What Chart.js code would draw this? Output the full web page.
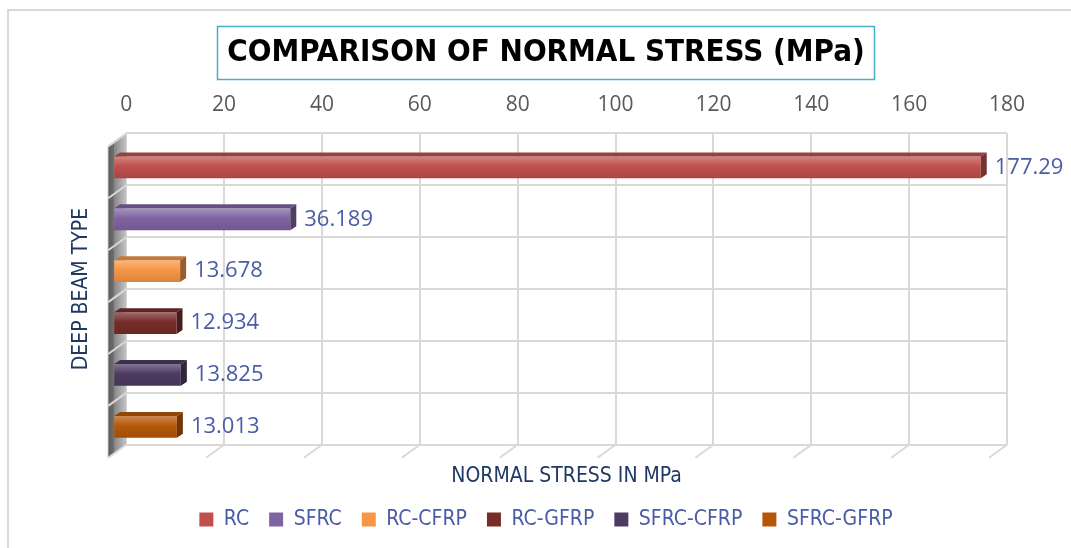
<!DOCTYPE html>
<html>
<head>
<meta charset="utf-8">
<title>Comparison of normal stress</title>
<script src="https://cdn.jsdelivr.net/npm/chart.js@4.4.0/dist/chart.umd.min.js"></script>
<style>
  html, body { margin: 0; padding: 0; background: #fff; }
  #wrap { width: 1071px; height: 548px; position: relative; }
</style>
</head>
<body>
<div id="wrap"><canvas id="stressChart"></canvas></div>
<script>
// chart data
const categories = ['RC', 'SFRC', 'RC-CFRP', 'RC-GFRP', 'SFRC-CFRP', 'SFRC-GFRP'];
const stressValues = [177.29, 36.189, 13.678, 12.934, 13.825, 13.013];
const tickValues = [0, 20, 40, 60, 80, 100, 120, 140, 160, 180];

const barColors = ['#C0504D', '#8064A2', '#F79646', '#772C2A', '#4D3B62', '#B65708'];
const labelBlue = '#4A5CA6';
const navy = '#1F3864';
const gridGray = '#D9D9D9';
const narrow = "'Liberation Sans Narrow', 'DejaVu Sans Condensed', sans-serif";
const plain = "'Open Sans', sans-serif";
const barPct = 0.42;

// 3d offsets (front of bars vs back wall, bar depth, floor depth)
const front = { x: -13, y: 8 };
const depth = { x: 6, y: -4 };
const floor = { x: -18, y: 13 };

// lighten (f>0) or darken (f<0) a hex colour
function shade(hex, f) {
    const n = parseInt(hex.slice(1), 16);
    const t = f < 0 ? 0 : 255, p = Math.abs(f);
    const c = [n >> 16, (n >> 8) & 255, n & 255].map(v => Math.round(v + (t - v) * p));
    return 'rgb(' + c.join(',') + ')';
}

function barFill(c, i) {
    const chart = c.chart;
    const ys = chart.scales.y;
    if (!chart.chartArea || !ys) return barColors[i];
    const mid = ys.getPixelForValue(c.dataIndex);
    const half = (ys.getPixelForValue(1) - ys.getPixelForValue(0)) * barPct / 2;
    const g = chart.ctx.createLinearGradient(0, mid - half, 0, mid + half);
    g.addColorStop(0, shade(barColors[i], 0.3));
    g.addColorStop(0.45, barColors[i]);
    g.addColorStop(1, shade(barColors[i], -0.12));
    return g;
}

const frame3d = {
    id: 'frame3d',
    beforeDraw(chart) {
        const ctx = chart.ctx;
        ctx.save();
        ctx.fillStyle = '#fff';
        ctx.fillRect(0, 0, chart.width, chart.height);
        ctx.strokeStyle = gridGray;
        ctx.lineWidth = 2;
        ctx.strokeRect(8, 10, chart.width + 20, chart.height + 20);
        ctx.restore();
    },
    beforeDatasetsDraw(chart) {
        const ctx = chart.ctx, a = chart.chartArea;
        const xs = chart.scales.x, ys = chart.scales.y;
        const step = ys.getPixelForValue(1) - ys.getPixelForValue(0);
        ctx.save();
        // side wall on the left
        const g = ctx.createLinearGradient(a.left + floor.x, 0, a.left, 0);
        g.addColorStop(0, '#5a5a5a');
        g.addColorStop(0.3, '#6e6e6e');
        g.addColorStop(0.35, '#888');
        g.addColorStop(1, '#c4c4c4');
        ctx.fillStyle = g;
        ctx.beginPath();
        ctx.moveTo(a.left, a.top);
        ctx.lineTo(a.left, a.bottom);
        ctx.lineTo(a.left + floor.x, a.bottom + floor.y);
        ctx.lineTo(a.left + floor.x, a.top + floor.y);
        ctx.closePath();
        ctx.fill();
        ctx.strokeStyle = '#e6e6e6';
        ctx.lineWidth = 1;
        ctx.beginPath();
        ctx.moveTo(a.left + floor.x - 0.5, a.top + floor.y);
        ctx.lineTo(a.left + floor.x - 0.5, a.bottom + floor.y);
        ctx.stroke();
        // depth lines on the wall and the floor
        ctx.strokeStyle = gridGray;
        ctx.lineWidth = 2;
        ctx.beginPath();
        for (let i = 0; i <= categories.length; i++) {
            const yb = ys.getPixelForValue(0) - step / 2 + i * step;
            ctx.moveTo(a.left, yb);
            ctx.lineTo(a.left + floor.x, yb + floor.y);
        }
        tickValues.forEach(v => {
            const xb = xs.getPixelForValue(v);
            ctx.moveTo(xb, a.bottom);
            ctx.lineTo(xb + floor.x, a.bottom + floor.y);
        });
        ctx.stroke();
        // bars are drawn on the front plane
        ctx.translate(front.x, front.y);
    },
    afterDatasetsDraw(chart) {
        const ctx = chart.ctx;
        ctx.restore();
        ctx.save();
        chart.data.datasets.forEach((ds, i) => {
            const meta = chart.getDatasetMeta(i);
            meta.data.forEach((el, j) => {
                if (ds.data[j] == null) return;
                const x0 = el.base + front.x, x1 = el.x + front.x;
                const top = el.y - el.height / 2 + front.y;
                const bot = el.y + el.height / 2 + front.y;
                // top face
                ctx.fillStyle = shade(barColors[i], -0.2);
                ctx.beginPath();
                ctx.moveTo(x0, top);
                ctx.lineTo(x0 + depth.x, top + depth.y);
                ctx.lineTo(x1 + depth.x, top + depth.y);
                ctx.lineTo(x1, top);
                ctx.closePath();
                ctx.fill();
                // end face
                ctx.fillStyle = shade(barColors[i], -0.38);
                ctx.beginPath();
                ctx.moveTo(x1, top);
                ctx.lineTo(x1 + depth.x, top + depth.y);
                ctx.lineTo(x1 + depth.x, bot + depth.y);
                ctx.lineTo(x1, bot);
                ctx.closePath();
                ctx.fill();
                // value label
                ctx.fillStyle = labelBlue;
                ctx.font = '22px ' + plain;
                ctx.textAlign = 'left';
                ctx.textBaseline = 'middle';
                ctx.fillText(String(ds.data[j]), x1 + 14, el.y + front.y);
            });
        });
        ctx.restore();
    },
    afterDraw(chart) {
        // border round the title
        const ctx = chart.ctx, tb = chart.titleBlock;
        const o = chart.options.plugins.title;
        ctx.save();
        ctx.font = 'bold ' + o.font.size + 'px ' + o.font.family;
        const w = ctx.measureText(o.text).width;
        const cx = (tb.left + tb.right) / 2;
        const cy = tb.top + o.padding.top + o.font.size * 0.6;
        ctx.strokeStyle = '#4BACC6';
        ctx.lineWidth = 1.5;
        ctx.strokeRect(Math.round(cx - w / 2 - 10) + 0.5, Math.round(cy - 26.5) + 0.5, Math.round(w + 20), 53);
        ctx.restore();
    }
};

const datasets = categories.map((name, i) => ({
    label: name,
    data: categories.map((_, j) => (j === i ? stressValues[i] : null)),
    backgroundColor: c => barFill(c, i),
    borderWidth: 0,
    grouped: false,
    categoryPercentage: 1,
    barPercentage: barPct,
    clip: false
}));

new Chart(document.getElementById('stressChart'), {
    type: 'bar',
    data: { labels: categories, datasets: datasets },
    plugins: [frame3d],
    options: {
        indexAxis: 'y',
        responsive: true,
        maintainAspectRatio: false,
        animation: false,
        devicePixelRatio: 1,
        layout: { padding: { left: 85, right: 64, top: 7, bottom: 8 } },
        scales: {
            x: {
                position: 'top',
                min: tickValues[0],
                max: tickValues[tickValues.length - 1],
                ticks: {
                    stepSize: tickValues[1] - tickValues[0],
                    color: '#595959',
                    font: { family: plain, size: 21 },
                    padding: 16
                },
                grid: { color: gridGray, lineWidth: 2, drawTicks: false },
                border: { display: false }
            },
            y: {
                ticks: { display: false },
                grid: { color: gridGray, lineWidth: 2, drawTicks: false },
                border: { display: false },
                title: {
                    display: true,
                    text: 'DEEP BEAM TYPE',
                    color: navy,
                    font: { family: narrow, size: 21 },
                    padding: { top: -16, bottom: 32 }
                }
            }
        },
        plugins: {
            title: {
                display: true,
                text: 'COMPARISON OF NORMAL STRESS (MPa)',
                color: '#000',
                font: { family: narrow, size: 31, weight: 'bold' },
                padding: { top: 27, bottom: 5 }
            },
            subtitle: {
                display: true,
                position: 'bottom',
                fullSize: false,
                weight: 500,
                text: 'NORMAL STRESS IN MPa',
                color: navy,
                font: { family: narrow, size: 21 },
                padding: { top: 19, bottom: 0 }
            },
            legend: {
                position: 'bottom',
                labels: {
                    boxWidth: 14,
                    boxHeight: 14,
                    padding: 20,
                    color: labelBlue,
                    font: { family: narrow, size: 21 },
                    generateLabels: chart => chart.data.datasets.map((ds, i) => ({
                        text: ds.label,
                        fillStyle: barColors[i],
                        strokeStyle: barColors[i],
                        lineWidth: 0,
                        fontColor: labelBlue,
                        hidden: false,
                        datasetIndex: i
                    }))
                }
            },
            tooltip: { enabled: false }
        }
    }
});
</script>
</body>
</html>
